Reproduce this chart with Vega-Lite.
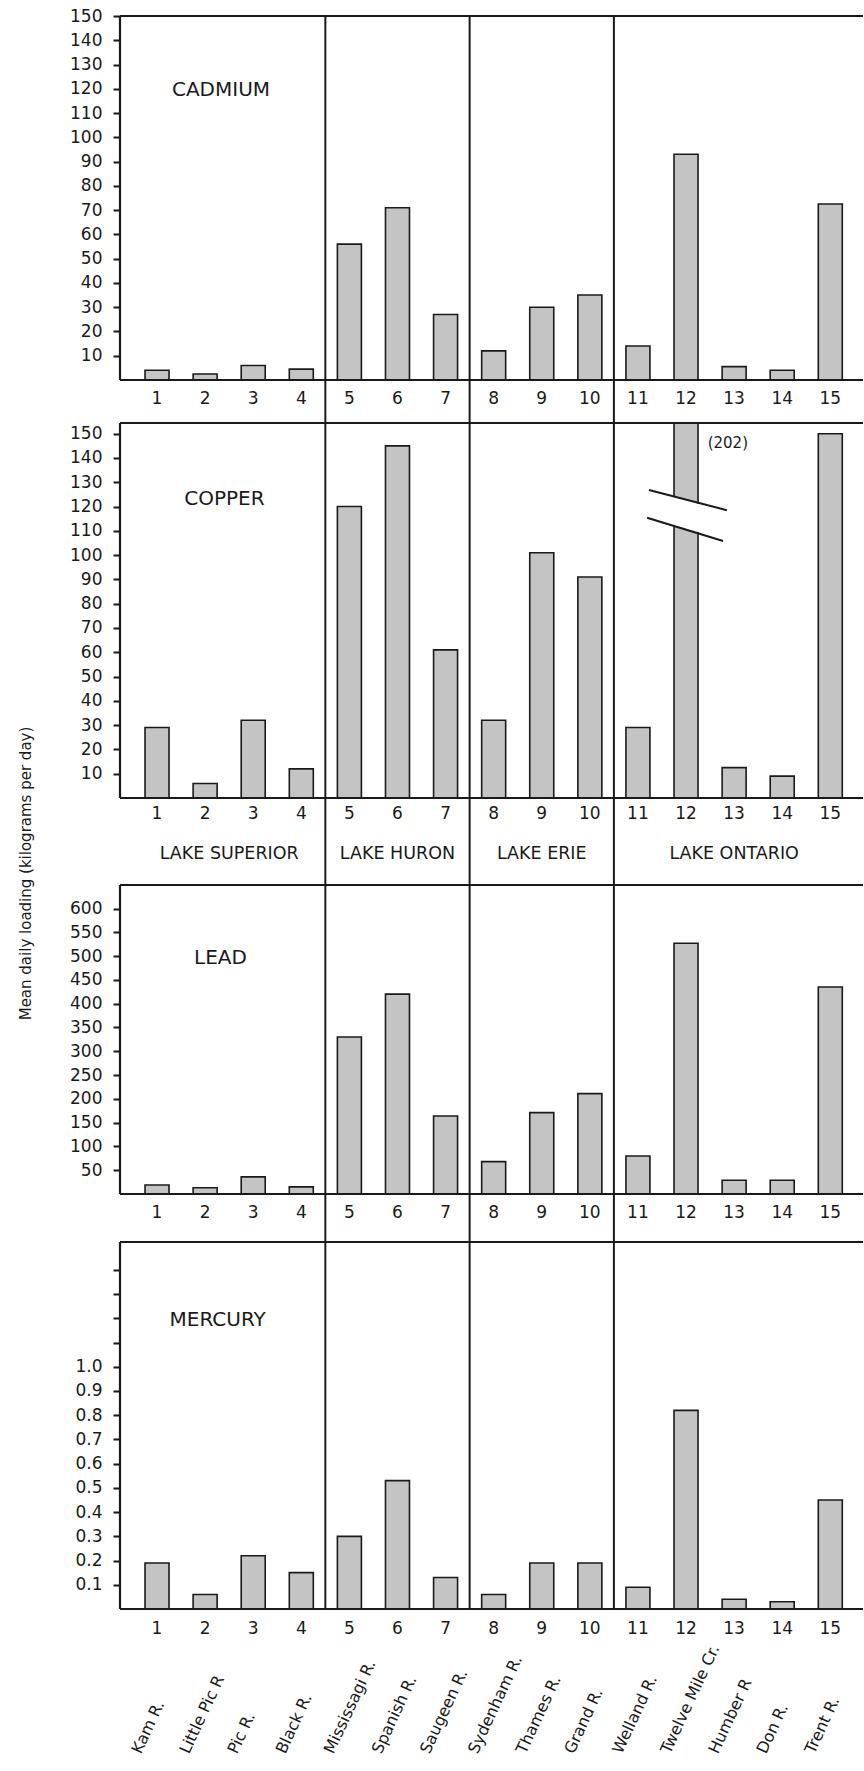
{
  "$schema": "https://vega.github.io/schema/vega-lite/v6.json",
  "background": "#ffffff",
  "padding": {"left": 18, "top": 7, "right": 0, "bottom": 0},
  "spacing": 0,
  "bounds": "flush",
  "config": {
    "view": {"stroke": null},
    "axisY": {"domain": false, "grid": false, "tickSize": 7, "tickWidth": 2, "tickColor": "#1a1a1a", "labelFont": "DejaVu Sans", "labelFontSize": 17, "labelColor": "#1a1a1a", "labelPadding": 11, "labelOverlap": false},
    "text": {"font": "DejaVu Sans", "color": "#1a1a1a"},
    "rule": {"color": "#1a1a1a", "strokeWidth": 2}
  },
  "datasets": {
    "rivers": [
      {"id": 1, "river": "Kam R.", "lake": "LAKE SUPERIOR"},
      {"id": 2, "river": "Little Pic R", "lake": "LAKE SUPERIOR"},
      {"id": 3, "river": "Pic R.", "lake": "LAKE SUPERIOR"},
      {"id": 4, "river": "Black R.", "lake": "LAKE SUPERIOR"},
      {"id": 5, "river": "Mississagi R.", "lake": "LAKE HURON"},
      {"id": 6, "river": "Spanish R.", "lake": "LAKE HURON"},
      {"id": 7, "river": "Saugeen R.", "lake": "LAKE HURON"},
      {"id": 8, "river": "Sydenham R.", "lake": "LAKE ERIE"},
      {"id": 9, "river": "Thames R.", "lake": "LAKE ERIE"},
      {"id": 10, "river": "Grand R.", "lake": "LAKE ERIE"},
      {"id": 11, "river": "Welland R.", "lake": "LAKE ONTARIO"},
      {"id": 12, "river": "Twelve Mile Cr.", "lake": "LAKE ONTARIO"},
      {"id": 13, "river": "Humber R", "lake": "LAKE ONTARIO"},
      {"id": 14, "river": "Don R.", "lake": "LAKE ONTARIO"},
      {"id": 15, "river": "Trent R.", "lake": "LAKE ONTARIO"}
    ],
    "loads": [
      {"metal": "CADMIUM", "id": 1, "value": 4},
      {"metal": "CADMIUM", "id": 2, "value": 2.5},
      {"metal": "CADMIUM", "id": 3, "value": 6},
      {"metal": "CADMIUM", "id": 4, "value": 4.5},
      {"metal": "CADMIUM", "id": 5, "value": 56},
      {"metal": "CADMIUM", "id": 6, "value": 71},
      {"metal": "CADMIUM", "id": 7, "value": 27},
      {"metal": "CADMIUM", "id": 8, "value": 12},
      {"metal": "CADMIUM", "id": 9, "value": 30},
      {"metal": "CADMIUM", "id": 10, "value": 35},
      {"metal": "CADMIUM", "id": 11, "value": 14},
      {"metal": "CADMIUM", "id": 12, "value": 93},
      {"metal": "CADMIUM", "id": 13, "value": 5.5},
      {"metal": "CADMIUM", "id": 14, "value": 4},
      {"metal": "CADMIUM", "id": 15, "value": 72.5},
      {"metal": "COPPER", "id": 1, "value": 29},
      {"metal": "COPPER", "id": 2, "value": 6},
      {"metal": "COPPER", "id": 3, "value": 32},
      {"metal": "COPPER", "id": 4, "value": 12},
      {"metal": "COPPER", "id": 5, "value": 120},
      {"metal": "COPPER", "id": 6, "value": 145},
      {"metal": "COPPER", "id": 7, "value": 61},
      {"metal": "COPPER", "id": 8, "value": 32},
      {"metal": "COPPER", "id": 9, "value": 101},
      {"metal": "COPPER", "id": 10, "value": 91},
      {"metal": "COPPER", "id": 11, "value": 29},
      {"metal": "COPPER", "id": 12, "value": 202},
      {"metal": "COPPER", "id": 13, "value": 12.5},
      {"metal": "COPPER", "id": 14, "value": 9},
      {"metal": "COPPER", "id": 15, "value": 150},
      {"metal": "LEAD", "id": 1, "value": 19},
      {"metal": "LEAD", "id": 2, "value": 13},
      {"metal": "LEAD", "id": 3, "value": 36},
      {"metal": "LEAD", "id": 4, "value": 15},
      {"metal": "LEAD", "id": 5, "value": 330},
      {"metal": "LEAD", "id": 6, "value": 420},
      {"metal": "LEAD", "id": 7, "value": 164},
      {"metal": "LEAD", "id": 8, "value": 68},
      {"metal": "LEAD", "id": 9, "value": 171},
      {"metal": "LEAD", "id": 10, "value": 211},
      {"metal": "LEAD", "id": 11, "value": 80},
      {"metal": "LEAD", "id": 12, "value": 527},
      {"metal": "LEAD", "id": 13, "value": 29},
      {"metal": "LEAD", "id": 14, "value": 29},
      {"metal": "LEAD", "id": 15, "value": 435},
      {"metal": "MERCURY", "id": 1, "value": 0.19},
      {"metal": "MERCURY", "id": 2, "value": 0.06},
      {"metal": "MERCURY", "id": 3, "value": 0.22},
      {"metal": "MERCURY", "id": 4, "value": 0.15},
      {"metal": "MERCURY", "id": 5, "value": 0.30},
      {"metal": "MERCURY", "id": 6, "value": 0.53},
      {"metal": "MERCURY", "id": 7, "value": 0.13},
      {"metal": "MERCURY", "id": 8, "value": 0.06},
      {"metal": "MERCURY", "id": 9, "value": 0.19},
      {"metal": "MERCURY", "id": 10, "value": 0.19},
      {"metal": "MERCURY", "id": 11, "value": 0.09},
      {"metal": "MERCURY", "id": 12, "value": 0.82},
      {"metal": "MERCURY", "id": 13, "value": 0.04},
      {"metal": "MERCURY", "id": 14, "value": 0.03},
      {"metal": "MERCURY", "id": 15, "value": 0.45}
    ]
  },
  "data": {"name": "loads"},
  "transform": [
    {"lookup": "id", "from": {"data": {"name": "rivers"}, "key": "id", "fields": ["river", "lake"]}}
  ],
  "vconcat": [
    {
      "width": 743,
      "height": 407,
      "transform": [{"filter": "datum.metal === 'CADMIUM'"}],
      "resolve": {"axis": {"y": "independent"}},
      "layer": [
        {
          "mark": {"type": "bar", "width": 24, "fill": "#c4c4c4", "stroke": "#1a1a1a", "strokeWidth": 1.6},
          "encoding": {
            "x": {"field": "id", "type": "quantitative", "scale": {"domain": [0.23, 15.68], "nice": false, "zero": false, "padding": 0}, "axis": null},
            "y": {"field": "value", "type": "quantitative", "scale": {"domain": [-17.72, 150], "nice": false, "zero": false},
                  "axis": {"values": [10, 20, 30, 40, 50, 60, 70, 80, 90, 100, 110, 120, 130, 140, 150], "title": null, "labelOverlap": false}},
            "y2": {"datum": 0}
          }
        },
        {
          "transform": [{"filter": "datum.id === 1"}],
          "mark": {"type": "rule", "strokeWidth": 2.2},
          "encoding": {"y": {"datum": 150, "type": "quantitative", "axis": null}}
        },
        {
          "transform": [{"filter": "datum.id === 1"}],
          "mark": {"type": "rule", "strokeWidth": 2.2},
          "encoding": {"y": {"datum": 0, "type": "quantitative", "axis": null}}
        },
        {
          "transform": [{"filter": "datum.id === 1"}],
          "mark": {"type": "rule", "strokeWidth": 2.2},
          "encoding": {
            "x": {"datum": 0.23, "type": "quantitative", "axis": null},
            "y": {"datum": 0, "type": "quantitative", "axis": null},
            "y2": {"datum": 150}
          }
        },
        {
          "transform": [
            {"filter": "datum.lake !== 'LAKE ONTARIO'"},
            {"aggregate": [{"op": "max", "field": "id", "as": "last"}], "groupby": ["lake"]}
          ],
          "mark": {"type": "rule", "xOffset": 24.05, "strokeWidth": 2},
          "encoding": {"x": {"field": "last", "type": "quantitative", "axis": null}}
        },
        {
          "mark": {"type": "text", "dy": 19, "baseline": "middle", "align": "center", "fontSize": 17},
          "encoding": {
            "x": {"field": "id", "type": "quantitative", "axis": null},
            "y": {"datum": 0, "type": "quantitative", "axis": null},
            "text": {"field": "id", "type": "nominal"}
          }
        },
        {
          "transform": [{"filter": "datum.id === 1"}],
          "mark": {"type": "text", "text": "CADMIUM", "fontSize": 20, "baseline": "middle", "align": "center"},
          "encoding": {
            "x": {"datum": 2.33, "type": "quantitative", "axis": null},
            "y": {"datum": 119.3, "type": "quantitative", "axis": null}
          }
        }
      ]
    },
    {
      "width": 743,
      "height": 462,
      "transform": [{"filter": "datum.metal === 'COPPER'"}],
      "resolve": {"axis": {"y": "independent"}},
      "layer": [
        {
          "mark": {"type": "bar", "width": 24, "fill": "#c4c4c4", "stroke": "#1a1a1a", "strokeWidth": 1.6},
          "encoding": {
            "x": {"field": "id", "type": "quantitative", "scale": {"domain": [0.23, 15.68], "nice": false, "zero": false, "padding": 0}, "axis": null},
            "y": {"field": "value", "type": "quantitative", "scale": {"domain": [-35.82, 154.4], "nice": false, "zero": false, "clamp": true},
                  "axis": {"values": [10, 20, 30, 40, 50, 60, 70, 80, 90, 100, 110, 120, 130, 140, 150], "labelOverlap": false,
                           "title": "Mean daily loading (kilograms per day)", "titleX": -95, "titleY": 450, "titleAngle": 270,
                           "titleAlign": "center", "titleBaseline": "middle", "titleFont": "DejaVu Sans", "titleFontSize": 15,
                           "titleFontWeight": "normal", "titleColor": "#1a1a1a"}},
            "y2": {"datum": 0}
          }
        },
        {
          "transform": [{"filter": "datum.id === 12"}],
          "mark": {"type": "rule", "color": "#ffffff", "strokeWidth": 27, "strokeCap": "butt"},
          "encoding": {
            "x": {"datum": 11.6, "type": "quantitative", "axis": null},
            "x2": {"datum": 12.48},
            "y": {"datum": 119.0, "type": "quantitative", "axis": null},
            "y2": {"datum": 114.1}
          }
        },
        {
          "transform": [{"filter": "datum.id === 12"}],
          "mark": {"type": "rule", "strokeWidth": 2},
          "encoding": {
            "x": {"datum": 11.23, "type": "quantitative", "axis": null},
            "x2": {"datum": 12.85},
            "y": {"datum": 126.8, "type": "quantitative", "axis": null},
            "y2": {"datum": 118.5}
          }
        },
        {
          "transform": [{"filter": "datum.id === 12"}],
          "mark": {"type": "rule", "strokeWidth": 2},
          "encoding": {
            "x": {"datum": 11.19, "type": "quantitative", "axis": null},
            "x2": {"datum": 12.77},
            "y": {"datum": 115.4, "type": "quantitative", "axis": null},
            "y2": {"datum": 105.8}
          }
        },
        {
          "transform": [{"filter": "datum.id === 1"}],
          "mark": {"type": "rule", "strokeWidth": 2.2},
          "encoding": {"y": {"datum": 154.4, "type": "quantitative", "axis": null}}
        },
        {
          "transform": [{"filter": "datum.id === 1"}],
          "mark": {"type": "rule", "strokeWidth": 2.2},
          "encoding": {"y": {"datum": 0, "type": "quantitative", "axis": null}}
        },
        {
          "transform": [{"filter": "datum.id === 1"}],
          "mark": {"type": "rule", "strokeWidth": 2.2},
          "encoding": {
            "x": {"datum": 0.23, "type": "quantitative", "axis": null},
            "y": {"datum": 0, "type": "quantitative", "axis": null},
            "y2": {"datum": 154.4}
          }
        },
        {
          "transform": [
            {"filter": "datum.lake !== 'LAKE ONTARIO'"},
            {"aggregate": [{"op": "max", "field": "id", "as": "last"}], "groupby": ["lake"]}
          ],
          "mark": {"type": "rule", "xOffset": 24.05, "strokeWidth": 2},
          "encoding": {"x": {"field": "last", "type": "quantitative", "axis": null}}
        },
        {
          "mark": {"type": "text", "dy": 16, "baseline": "middle", "align": "center", "fontSize": 17},
          "encoding": {
            "x": {"field": "id", "type": "quantitative", "axis": null},
            "y": {"datum": 0, "type": "quantitative", "axis": null},
            "text": {"field": "id", "type": "nominal"}
          }
        },
        {
          "transform": [{"aggregate": [{"op": "mean", "field": "id", "as": "mid"}], "groupby": ["lake"]}],
          "mark": {"type": "text", "dy": 56, "baseline": "middle", "align": "center", "fontSize": 17.5},
          "encoding": {
            "x": {"field": "mid", "type": "quantitative", "axis": null},
            "y": {"datum": 0, "type": "quantitative", "axis": null},
            "text": {"field": "lake", "type": "nominal"}
          }
        },
        {
          "transform": [{"filter": "datum.id === 1"}],
          "mark": {"type": "text", "text": "COPPER", "fontSize": 20, "baseline": "middle", "align": "center"},
          "encoding": {
            "x": {"datum": 2.4, "type": "quantitative", "axis": null},
            "y": {"datum": 123.3, "type": "quantitative", "axis": null}
          }
        },
        {
          "transform": [{"filter": "datum.id === 12"}],
          "mark": {"type": "text", "text": {"expr": "'(' + datum.value + ')'"}, "fontSize": 15, "baseline": "middle", "align": "left"},
          "encoding": {
            "x": {"datum": 12.45, "type": "quantitative", "axis": null},
            "y": {"datum": 146.3, "type": "quantitative", "axis": null}
          }
        }
      ]
    },
    {
      "width": 743,
      "height": 357,
      "transform": [{"filter": "datum.metal === 'LEAD'"}],
      "resolve": {"axis": {"y": "independent"}},
      "layer": [
        {
          "mark": {"type": "bar", "width": 24, "fill": "#c4c4c4", "stroke": "#1a1a1a", "strokeWidth": 1.6},
          "encoding": {
            "x": {"field": "id", "type": "quantitative", "scale": {"domain": [0.23, 15.68], "nice": false, "zero": false, "padding": 0}, "axis": null},
            "y": {"field": "value", "type": "quantitative", "scale": {"domain": [-100.9, 649.4], "nice": false, "zero": false},
                  "axis": {"values": [50, 100, 150, 200, 250, 300, 350, 400, 450, 500, 550, 600], "title": null, "labelOverlap": false}},
            "y2": {"datum": 0}
          }
        },
        {
          "transform": [{"filter": "datum.id === 1"}],
          "mark": {"type": "rule", "strokeWidth": 2.2},
          "encoding": {"y": {"datum": 649.4, "type": "quantitative", "axis": null}}
        },
        {
          "transform": [{"filter": "datum.id === 1"}],
          "mark": {"type": "rule", "strokeWidth": 2.2},
          "encoding": {"y": {"datum": 0, "type": "quantitative", "axis": null}}
        },
        {
          "transform": [{"filter": "datum.id === 1"}],
          "mark": {"type": "rule", "strokeWidth": 2.2},
          "encoding": {
            "x": {"datum": 0.23, "type": "quantitative", "axis": null},
            "y": {"datum": 0, "type": "quantitative", "axis": null},
            "y2": {"datum": 649.4}
          }
        },
        {
          "transform": [
            {"filter": "datum.lake !== 'LAKE ONTARIO'"},
            {"aggregate": [{"op": "max", "field": "id", "as": "last"}], "groupby": ["lake"]}
          ],
          "mark": {"type": "rule", "xOffset": 24.05, "strokeWidth": 2},
          "encoding": {"x": {"field": "last", "type": "quantitative", "axis": null}}
        },
        {
          "mark": {"type": "text", "dy": 19.5, "baseline": "middle", "align": "center", "fontSize": 17},
          "encoding": {
            "x": {"field": "id", "type": "quantitative", "axis": null},
            "y": {"datum": 0, "type": "quantitative", "axis": null},
            "text": {"field": "id", "type": "nominal"}
          }
        },
        {
          "transform": [{"filter": "datum.id === 1"}],
          "mark": {"type": "text", "text": "LEAD", "fontSize": 20, "baseline": "middle", "align": "center"},
          "encoding": {
            "x": {"datum": 2.32, "type": "quantitative", "axis": null},
            "y": {"datum": 497, "type": "quantitative", "axis": null}
          }
        }
      ]
    },
    {
      "width": 743,
      "height": 367,
      "transform": [{"filter": "datum.metal === 'MERCURY'"}],
      "resolve": {"axis": {"y": "independent"}},
      "layer": [
        {
          "mark": {"type": "bar", "width": 24, "fill": "#c4c4c4", "stroke": "#1a1a1a", "strokeWidth": 1.6},
          "encoding": {
            "x": {"field": "id", "type": "quantitative", "scale": {"domain": [0.23, 15.68], "nice": false, "zero": false, "padding": 0}, "axis": null},
            "y": {"field": "value", "type": "quantitative", "scale": {"domain": [0, 1.515], "nice": false, "zero": false},
                  "axis": {"values": [0.1, 0.2, 0.3, 0.4, 0.5, 0.6, 0.7, 0.8, 0.9, 1.0, 1.1, 1.2, 1.3, 1.4], "labelOverlap": false,
                           "labelExpr": "datum.value > 1.05 ? '' : format(datum.value, '.1f')", "title": null}},
            "y2": {"datum": 0}
          }
        },
        {
          "transform": [{"filter": "datum.id === 1"}],
          "mark": {"type": "rule", "strokeWidth": 2.2},
          "encoding": {"y": {"datum": 1.515, "type": "quantitative", "axis": null}}
        },
        {
          "transform": [{"filter": "datum.id === 1"}],
          "mark": {"type": "rule", "strokeWidth": 2.2},
          "encoding": {"y": {"datum": 0, "type": "quantitative", "axis": null}}
        },
        {
          "transform": [{"filter": "datum.id === 1"}],
          "mark": {"type": "rule", "strokeWidth": 2.2},
          "encoding": {
            "x": {"datum": 0.23, "type": "quantitative", "axis": null},
            "y": {"datum": 0, "type": "quantitative", "axis": null},
            "y2": {"datum": 1.515}
          }
        },
        {
          "transform": [
            {"filter": "datum.lake !== 'LAKE ONTARIO'"},
            {"aggregate": [{"op": "max", "field": "id", "as": "last"}], "groupby": ["lake"]}
          ],
          "mark": {"type": "rule", "xOffset": 24.05, "strokeWidth": 2},
          "encoding": {"x": {"field": "last", "type": "quantitative", "axis": null}}
        },
        {
          "mark": {"type": "text", "dy": 20, "baseline": "middle", "align": "center", "fontSize": 17},
          "encoding": {
            "x": {"field": "id", "type": "quantitative", "axis": null},
            "y": {"datum": 0, "type": "quantitative", "axis": null},
            "text": {"field": "id", "type": "nominal"}
          }
        },
        {
          "mark": {"type": "text", "angle": 295, "align": "left", "baseline": "alphabetic", "dx": -139, "dy": 47, "fontSize": 16},
          "encoding": {
            "x": {"field": "id", "type": "quantitative", "axis": null},
            "y": {"datum": 0, "type": "quantitative", "axis": null},
            "text": {"field": "river", "type": "nominal"}
          }
        },
        {
          "transform": [{"filter": "datum.id === 1"}],
          "mark": {"type": "text", "text": "MERCURY", "fontSize": 20, "baseline": "middle", "align": "center"},
          "encoding": {
            "x": {"datum": 2.26, "type": "quantitative", "axis": null},
            "y": {"datum": 1.193, "type": "quantitative", "axis": null}
          }
        }
      ]
    }
  ]
}
